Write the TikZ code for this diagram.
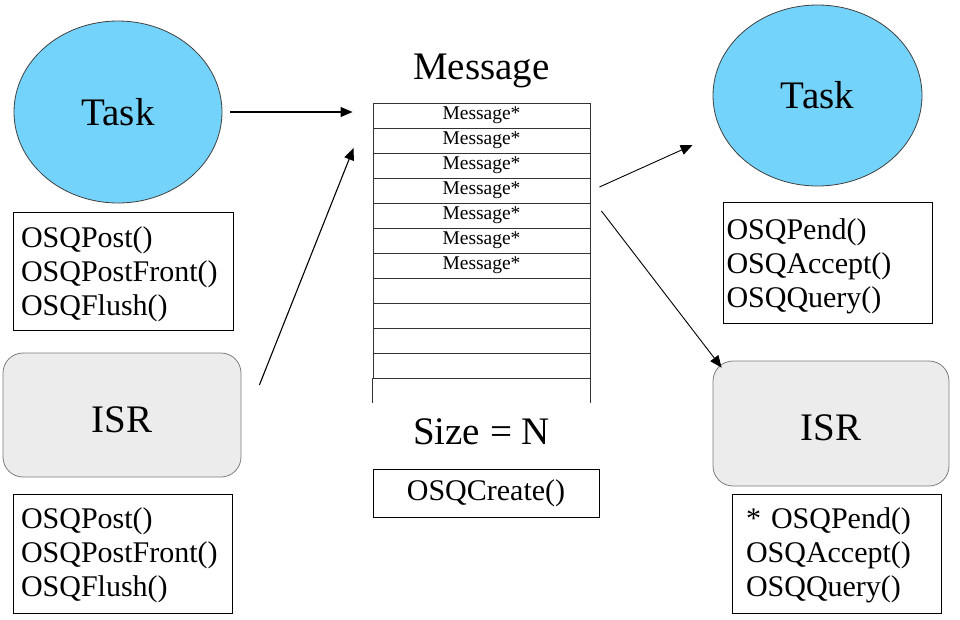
\documentclass[tikz,border=0pt]{standalone}
\usepackage{fontspec}
\setmainfont{Liberation Serif}
\usetikzlibrary{shapes.geometric,arrows.meta}
\definecolor{taskblue}{RGB}{115,211,250}
\definecolor{isrgray}{RGB}{236,236,236}
\definecolor{isredge}{RGB}{125,125,125}
\begin{document}
\begin{tikzpicture}[x=1pt,y=-1pt,
  big/.style={font=\fontsize{39}{39}\selectfont},
  task/.style={ellipse, draw=black!75, line width=0.8pt, fill=taskblue, inner sep=0pt, big},
  isr/.style={rectangle, rounded corners=20pt, draw=isredge, line width=0.8pt, fill=isrgray, inner sep=0pt, big, text height=34pt, text depth=0pt},
  fbox/.style={rectangle, draw=black, line width=0.9pt, align=left, font=\fontsize{30}{34}\selectfont, inner ysep=0pt},
  lower/.style={execute at begin node={\rule{0pt}{#1}}},
  cell/.style={rectangle, draw=black!80, line width=0.9pt, minimum width=217pt, minimum height=25pt, inner sep=0pt, font=\fontsize{19.5}{20}\selectfont},
  arr/.style={-{Triangle[length=12pt,width=10pt]}, line width=1.1pt}]
\useasboundingbox (0,0) rectangle (960,619);
% left side
\node[task, minimum width=208pt, minimum height=182pt] (taskL) at (118,112) {Task};
\node[fbox, lower=27pt, minimum width=220pt, minimum height=118pt, text width=204pt, inner xsep=8pt] (boxL1) at (123,271) {OSQPost()\\OSQPostFront()\\OSQFlush()};
\node[isr, minimum width=238pt, minimum height=124pt] (isrL) at (122,415) {ISR};
\node[fbox, lower=25pt, minimum width=219pt, minimum height=119pt, text width=203pt, inner xsep=8pt] (boxL2) at (122.5,553.5) {OSQPost()\\OSQPostFront()\\OSQFlush()};
% queue
\node[big, anchor=base] (title) at (481.5,79) {Message};
\foreach \i in {0,...,6} {\node[cell] (c\i) at (481.5,115.5+25*\i) {Message*};}
\foreach \i in {7,...,10} {\node[cell] (c\i) at (481.5,115.5+25*\i) {};}
\draw[line width=0.9pt, black!80] (c10.south west) -- ++(0,25);
\draw[line width=0.9pt, black!80] (c10.south east) -- ++(0,25);
\node[big, anchor=base] (size) at (481.5,444) {Size = N};
\node[fbox, minimum width=226pt, minimum height=48pt, inner xsep=0pt] (create) at (486,493) {OSQCreate()};
% right side
\node[task, minimum width=209pt, minimum height=181pt] (taskR) at (817.5,95.5) {Task};
\node[fbox, lower=29pt, minimum width=209pt, minimum height=121pt, text width=202pt, inner xsep=3.5pt] (boxR1) at (827.5,262.5) {OSQPend()\\OSQAccept()\\OSQQuery()};
\node[isr, minimum width=236pt, minimum height=125pt] (isrR) at (831,423.5) {ISR};
\node[fbox, lower=25pt, minimum width=209pt, minimum height=119pt, text width=181pt, inner xsep=14pt] (boxR2) at (836.5,553.5) {* OSQPend()\\OSQAccept()\\OSQQuery()};
% arrows
\draw[arr] ([xshift=8pt]taskL.east) -- ([shift={(-20,-3.5)}]c0.west);
\draw[arr] ([shift={(18,-30)}]isrL.east) -- ([shift={(-19,7.5)}]c1.west);
\draw[arr, line width=0.9pt] ([shift={(9,-3.5)}]c3.east) -- ([shift={(-20,49.5)}]taskR.west);
\draw[arr, line width=0.9pt] ([shift={(11,-4.5)}]c4.east) -- ([shift={(9,7)}]isrR.north west);
\end{tikzpicture}
\end{document}
